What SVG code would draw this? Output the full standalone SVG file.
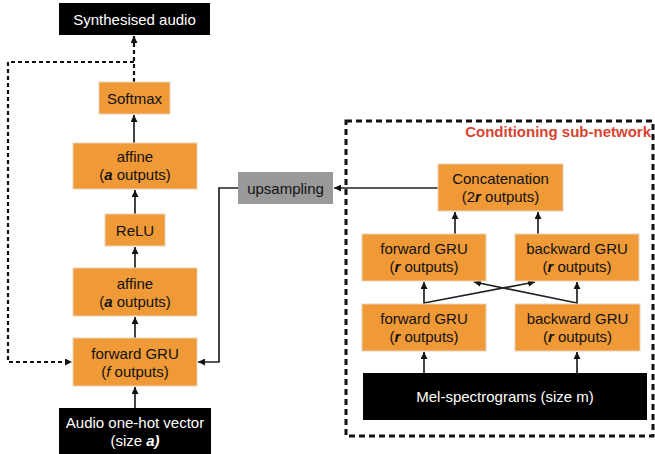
<svg xmlns="http://www.w3.org/2000/svg" width="655" height="454" viewBox="0 0 655 454">
<defs>
<marker id="ah" viewBox="0 0 10 10" refX="10" refY="5" markerWidth="7" markerHeight="7" markerUnits="userSpaceOnUse" orient="auto">
<path d="M0,0 L10,5 L0,10 z" fill="#111"/>
</marker>
</defs>
<style>
.org{fill:#F09A37;stroke:#E6D2B8;stroke-width:1}
.blk{fill:#000}
.t{font-family:"Liberation Sans",Arial,sans-serif;font-size:15px;text-anchor:middle;fill:#111}
.w{fill:#fff}
.bi{font-weight:bold;font-style:italic}
.ln{fill:none;stroke:#222;stroke-width:1.7}
.dl{fill:none;stroke:#111;stroke-width:2.2;stroke-dasharray:4,3}
</style>
<rect width="655" height="454" fill="#fff"/>
<g id="cond-box">
<rect x="346" y="121" width="307" height="315" fill="none" stroke="#111" stroke-width="3" stroke-dasharray="6,4"/>
<text x="651" y="137" font-family="'Liberation Sans',Arial,sans-serif" font-size="15" font-weight="bold" fill="#D9432F" text-anchor="end">Conditioning sub-network</text>
</g>
<g id="connectors">
<path class="dl" d="M134,82 V36" marker-end="url(#ah)"/>
<path class="dl" d="M134,62 H8 V362 H72" marker-end="url(#ah)"/>
<path class="ln" d="M134,143 V115" marker-end="url(#ah)"/>
<path class="ln" d="M135,214 V190" marker-end="url(#ah)"/>
<path class="ln" d="M135,268 V247" marker-end="url(#ah)"/>
<path class="ln" d="M135,338 V317" marker-end="url(#ah)"/>
<path class="ln" d="M135,408 V387" marker-end="url(#ah)"/>
<path class="ln" d="M238,188 H219 V362 H198" marker-end="url(#ah)"/>
<path class="ln" d="M438,188 H334" marker-end="url(#ah)"/>
<path class="ln" d="M455,234 V212" marker-end="url(#ah)"/>
<path class="ln" d="M538,234 V212" marker-end="url(#ah)"/>
<path class="ln" d="M424,304 V282" marker-end="url(#ah)"/>
<path class="ln" d="M577,304 V282" marker-end="url(#ah)"/>
<path class="ln" d="M424,303 L535,282" marker-end="url(#ah)"/>
<path class="ln" d="M577,303 L474,282" marker-end="url(#ah)"/>
<path class="ln" d="M424,373 V352" marker-end="url(#ah)"/>
<path class="ln" d="M577,373 V352" marker-end="url(#ah)"/>
</g>
<g id="synth">
<rect class="blk" x="59" y="3" width="151" height="32"/>
<text class="t w" x="134.5" y="24.5">Synthesised audio</text>
</g>
<g id="softmax">
<rect class="org" x="99" y="82" width="71" height="32"/>
<text class="t" x="134.5" y="103.5">Softmax</text>
</g>
<g id="affine1">
<rect class="org" x="73" y="143" width="124" height="46"/>
<text class="t" x="135" y="162">affine</text>
<text class="t" x="135" y="180">(<tspan class="bi">a</tspan> outputs)</text>
</g>
<g id="relu">
<rect class="org" x="105" y="214" width="60" height="32"/>
<text class="t" x="135" y="235.5">ReLU</text>
</g>
<g id="affine2">
<rect class="org" x="73" y="268" width="124" height="48"/>
<text class="t" x="135" y="288.5">affine</text>
<text class="t" x="135" y="306.5">(<tspan class="bi">a</tspan> outputs)</text>
</g>
<g id="gru-main">
<rect class="org" x="73" y="338" width="124" height="48"/>
<text class="t" x="135" y="358.5">forward GRU</text>
<text class="t" x="135" y="376.5">(<tspan font-style="italic">f</tspan> outputs)</text>
</g>
<g id="onehot">
<rect class="blk" x="59" y="408" width="152" height="50"/>
<text class="t w" x="135" y="428">Audio one-hot vector</text>
<text class="t w" x="135" y="446">(size <tspan class="bi">a)</tspan></text>
</g>
<g id="upsampling">
<rect x="238" y="172" width="95" height="32" fill="#999"/>
<text class="t" x="285.5" y="193.5" fill="#222">upsampling</text>
</g>
<g id="concat">
<rect class="org" x="438" y="164" width="125" height="47"/>
<text class="t" x="500.5" y="184">Concatenation</text>
<text class="t" x="500.5" y="202">(2<tspan class="bi">r</tspan> outputs)</text>
</g>
<g id="fgru-up">
<rect class="org" x="362" y="234" width="124" height="47"/>
<text class="t" x="424" y="254">forward GRU</text>
<text class="t" x="424" y="272">(<tspan class="bi">r</tspan> outputs)</text>
</g>
<g id="bgru-up">
<rect class="org" x="515" y="234" width="124" height="47"/>
<text class="t" x="577" y="254">backward GRU</text>
<text class="t" x="577" y="272">(<tspan class="bi">r</tspan> outputs)</text>
</g>
<g id="fgru-low">
<rect class="org" x="362" y="304" width="124" height="47"/>
<text class="t" x="424" y="324">forward GRU</text>
<text class="t" x="424" y="342">(<tspan class="bi">r</tspan> outputs)</text>
</g>
<g id="bgru-low">
<rect class="org" x="515" y="304" width="125" height="47"/>
<text class="t" x="577.5" y="324">backward GRU</text>
<text class="t" x="577.5" y="342">(<tspan class="bi">r</tspan> outputs)</text>
</g>
<g id="mel">
<rect class="blk" x="363" y="373" width="284" height="47"/>
<text class="t w" x="505" y="401.5">Mel-spectrograms (size m)</text>
</g>
</svg>
